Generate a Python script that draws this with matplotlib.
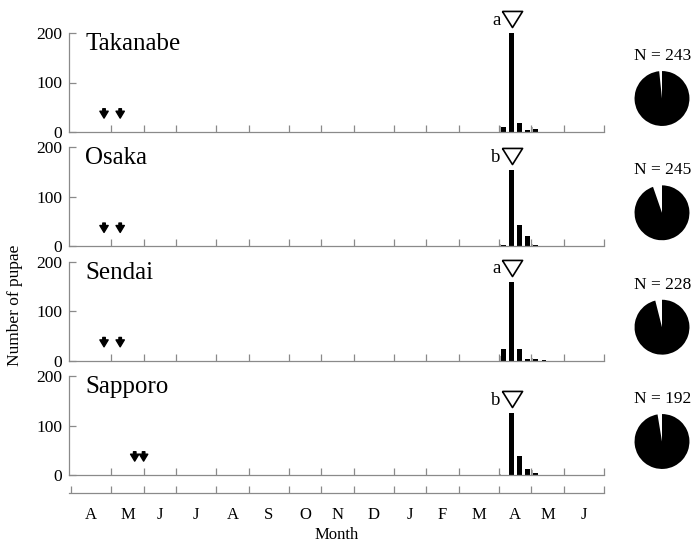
import matplotlib
matplotlib.use('Agg')
import matplotlib.pyplot as plt
import numpy as np

plt.rcParams['font.family'] = ['Liberation Serif', 'DejaVu Serif']

# ---------------- data ----------------
months = ['A', 'M', 'J', 'J', 'A', 'S', 'O', 'N', 'D', 'J', 'F', 'M', 'A', 'M', 'J']
weeks_per_month = [5, 4, 4, 5, 4, 5, 4, 4, 5, 4, 4, 5, 4, 4, 5]
sites = ['Takanabe', 'Osaka', 'Sendai', 'Sapporo']
letters = ['a', 'b', 'a', 'b']
n_total = [243, 245, 228, 192]
first_bar_week = 53          # first week of April in the second year
black_counts = [
    [10, 200, 18, 4, 7, 1, 1],   # Takanabe
    [3, 154, 44, 20, 2, 1, 1],   # Osaka
    [24, 160, 24, 4, 4, 1, 0],   # Sendai
    [1, 125, 38, 12, 4, 0, 0],   # Sapporo
]
grey_counts = [
    [12, 0, 0, 0, 11, 0, 0],
    [4, 0, 0, 0, 5, 0, 0],
    [10, 0, 0, 0, 6, 0, 0],
    [2, 0, 0, 0, 10, 0, 0],
]
arrow_weeks = [
    [4.1, 6.1],
    [4.1, 6.1],
    [4.1, 6.1],
    [7.9, 9.0],
]
pie_white = [4, 13, 9, 5]

# ---------------- layout ----------------
W, H = 692, 544
fig = plt.figure(figsize=(W / 100, H / 100), dpi=100)


def fx(px):
    return px / W


def fy(py):
    return 1 - py / H


left_px, right_px = 69.3, 604
baselines = [132, 246.3, 360.7, 475]
panel_h = 99
grey = '#8a8a8a'
tri_marker = [(-1, 0.8), (1, 0.8), (0, -0.8), (-1, 0.8)]

edges = np.concatenate([[0], np.cumsum(weeks_per_month)])
centers = (edges[:-1] + edges[1:]) / 2
xlim = (-0.2, edges[-1])

for i, site in enumerate(sites):
    b = baselines[i]
    ax = fig.add_axes([fx(left_px), fy(b), (right_px - left_px) / W, panel_h / H])
    weeks = first_bar_week + np.arange(len(black_counts[i]))
    ax.bar(weeks + 0.12, grey_counts[i], width=0.22, color='#b0b0b0', linewidth=0)
    ax.bar(weeks + 0.57, black_counts[i], width=0.6, color='black', linewidth=0)
    ax.set_xlim(*xlim)
    ax.set_ylim(0, 200)
    for s in ['top', 'right']:
        ax.spines[s].set_visible(False)
    for s in ['left', 'bottom']:
        ax.spines[s].set_color(grey)
        ax.spines[s].set_linewidth(0.9)
    ax.set_xticks(edges[1:])
    ax.set_xticklabels([])
    ax.set_yticks([0, 100, 200])
    ax.tick_params(axis='both', direction='in', length=5, width=0.9, color=grey,
                   labelsize=12.5, pad=5)
    ax.text(1.75, 178, site, fontsize=18, ha='left', va='center')

    k_peak = int(np.argmax(black_counts[i]))
    xp = first_bar_week + k_peak + 0.57
    yp = black_counts[i][k_peak] + 28
    ax.plot([xp], [yp], marker=tri_marker, ms=14.5, mfc='white', mec='black', mew=1.2,
            clip_on=False)
    ax.text(xp - 1.35, yp - 2, letters[i], fontsize=13.5, ha='right', va='center')

    for w in arrow_weeks[i]:
        ax.annotate('', xy=(w, 28), xytext=(w, 47),
                    arrowprops=dict(facecolor='black', edgecolor='black', width=1.8,
                                    headwidth=6, headlength=5, shrink=0))

    # pie
    yc = b - 33.5
    axp = fig.add_axes([fx(634), fy(yc + 28), 56 / W, 56 / H])
    axp.pie([pie_white[i], n_total[i] - pie_white[i]], colors=['white', 'black'],
            startangle=90, counterclock=True, wedgeprops=dict(linewidth=0))
    axp.set_xlim(-1.02, 1.02)
    axp.set_ylim(-1.02, 1.02)
    fig.text(fx(663), fy(b - 76), f'N = {n_total[i]}', ha='center', va='center',
             fontsize=12.5)

# month axis
axm = fig.add_axes([fx(left_px), fy(493), (right_px - left_px) / W, 0.0001])
for s in ['top', 'right', 'left']:
    axm.spines[s].set_visible(False)
axm.spines['bottom'].set_color(grey)
axm.spines['bottom'].set_linewidth(0.9)
axm.set_xlim(*xlim)
axm.set_yticks([])
axm.set_xticks(edges)
axm.set_xticklabels([])
axm.set_xticks(centers, minor=True)
axm.set_xticklabels(months, minor=True)
axm.tick_params(axis='x', which='major', direction='in', length=5, width=0.9, color=grey)
axm.tick_params(axis='x', which='minor', length=0, labelsize=12, pad=10)

fig.text(fx(337), fy(535), 'Month', ha='center', va='center', fontsize=12)
fig.text(fx(15), fy(305), 'Number of pupae', rotation=90, ha='center', va='center',
         fontsize=12.5)

fig.savefig('out.png', dpi=100)
